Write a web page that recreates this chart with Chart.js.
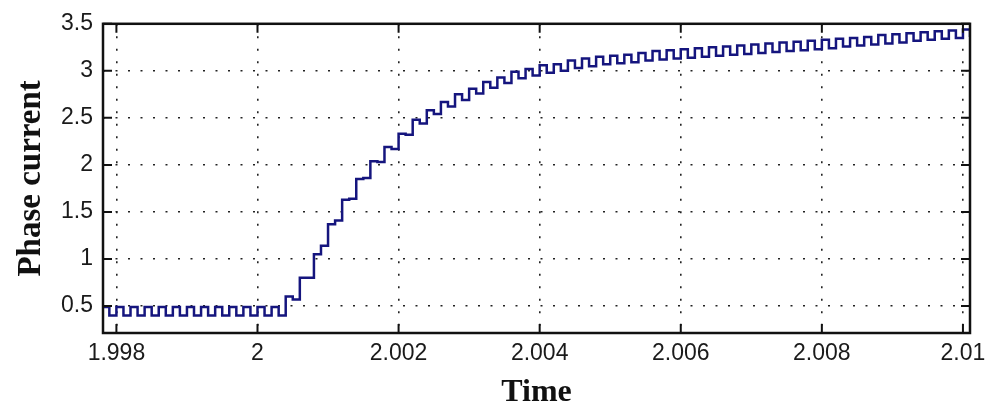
<!DOCTYPE html>
<html>
<head>
<meta charset="utf-8">
<script src="https://cdn.jsdelivr.net/npm/chart.js@4.4.1/dist/chart.umd.min.js"></script>
<style>
  html, body { margin: 0; padding: 0; background: #fff; }
  #wrap { width: 998px; height: 409px; }
</style>
</head>
<body>
<div id="wrap"><canvas id="phaseChart"></canvas></div>
<script>
// sampled at 0.1 ms, first sample at t = 1.9978 s
var sampleStart = 1.9978;
var sampleStep = 0.0001;
var phaseCurrent = [
  0.49, 0.40, 0.49, 0.40, 0.49, 0.40, 0.49, 0.40, 0.49, 0.40,
  0.49, 0.40, 0.49, 0.40, 0.49, 0.40, 0.49, 0.40, 0.49, 0.40,
  0.49, 0.40, 0.49, 0.40, 0.49, 0.40, 0.60, 0.57, 0.80, 0.80,
  1.05, 1.14, 1.37, 1.41, 1.63, 1.64, 1.85, 1.86, 2.04, 2.03,
  2.19, 2.17, 2.33, 2.32, 2.48, 2.44, 2.58, 2.54, 2.67, 2.62,
  2.75, 2.69, 2.81, 2.76, 2.88, 2.82, 2.93, 2.87, 2.99, 2.92,
  3.02, 2.95, 3.06, 2.98, 3.07, 3.00, 3.11, 3.03, 3.13, 3.05,
  3.15, 3.07, 3.16, 3.08, 3.17, 3.09, 3.19, 3.11, 3.21, 3.12,
  3.22, 3.13, 3.23, 3.14, 3.24, 3.15, 3.25, 3.16, 3.26, 3.17,
  3.27, 3.18, 3.28, 3.19, 3.29, 3.20, 3.30, 3.21, 3.31, 3.22,
  3.32, 3.23, 3.33, 3.24, 3.34, 3.26, 3.35, 3.27, 3.36, 3.28,
  3.38, 3.29, 3.39, 3.30, 3.40, 3.32, 3.41, 3.33, 3.42, 3.34,
  3.43, 3.35, 3.44, 3.36
];
var xRange = [1.99781, 2.0101];
var yRange = [0.213, 3.5];
var xStep = 0.002;
var yStep = 0.5;

var points = [];
for (var i = 0; i < phaseCurrent.length; i++) {
  points.push({ x: sampleStart + i * sampleStep, y: phaseCurrent[i] });
}

// matlab style box with inward ticks
var boxTicks = {
  id: 'boxTicks',
  afterDraw: function(chart) {
    var ctx = chart.ctx, a = chart.chartArea;
    var xs = chart.scales.x, ys = chart.scales.y;
    var len = 9;
    ctx.save();
    ctx.strokeStyle = '#111';
    ctx.lineWidth = 2;
    ctx.beginPath();
    xs.ticks.forEach(function(t) {
      var px = xs.getPixelForValue(t.value);
      ctx.moveTo(px, a.bottom); ctx.lineTo(px, a.bottom - len);
      ctx.moveTo(px, a.top); ctx.lineTo(px, a.top + len);
    });
    ys.ticks.forEach(function(t) {
      var py = ys.getPixelForValue(t.value);
      ctx.moveTo(a.left, py); ctx.lineTo(a.left + len, py);
      ctx.moveTo(a.right, py); ctx.lineTo(a.right - len, py);
    });
    ctx.stroke();
    ctx.lineWidth = 2.5;
    ctx.strokeRect(a.left, a.top, a.right - a.left, a.bottom - a.top);
    ctx.restore();
  }
};

var tickFont = { family: 'Liberation Sans, Arial, sans-serif', size: 23 };
var titleFont = { family: 'Liberation Serif, Times New Roman, serif', weight: 'bold', lineHeight: 1 };

var ctx = document.getElementById('phaseChart').getContext('2d');
var phaseChart = new Chart(ctx, {
  type: 'line',
  data: {
    datasets: [{
      label: 'Phase current',
      data: points,
      borderColor: '#15157e',
      borderWidth: 2.5,
      stepped: true,
      pointRadius: 0,
      fill: false
    }]
  },
  options: {
    responsive: true,
    maintainAspectRatio: false,
    animation: false,
    layout: { padding: { left: 0, right: 28, top: 22, bottom: 0 } },
    plugins: {
      legend: { display: false },
      tooltip: { enabled: false }
    },
    scales: {
      x: {
        type: 'linear',
        min: xRange[0],
        max: xRange[1],
        afterFit: function(scale) { scale.height = 76; },
        border: { display: false, dash: [2, 10.5] },
        grid: { color: '#222', lineWidth: 1.6, drawTicks: false },
        ticks: {
          stepSize: xStep,
          includeBounds: false,
          maxRotation: 0,
          autoSkip: false,
          padding: 7,
          color: '#1a1a1a',
          font: tickFont,
          callback: function(v) { return String(Number(v.toFixed(4))); }
        },
        title: {
          display: true,
          text: 'Time',
          color: '#111',
          padding: 0,
          font: Object.assign({ size: 32 }, titleFont)
        }
      },
      y: {
        min: yRange[0],
        max: yRange[1],
        afterFit: function(scale) { scale.width = 103; },
        border: { display: false, dash: [2, 10.5] },
        grid: { color: '#222', lineWidth: 1.6, drawTicks: false },
        ticks: {
          stepSize: yStep,
          includeBounds: false,
          padding: 10,
          color: '#1a1a1a',
          font: tickFont,
          callback: function(v) { return String(Number(v.toFixed(2))); }
        },
        title: {
          display: true,
          text: 'Phase current',
          color: '#111',
          padding: { top: 15, bottom: 0 },
          font: Object.assign({ size: 33 }, titleFont)
        }
      }
    }
  },
  plugins: [boxTicks]
});
</script>
</body>
</html>
